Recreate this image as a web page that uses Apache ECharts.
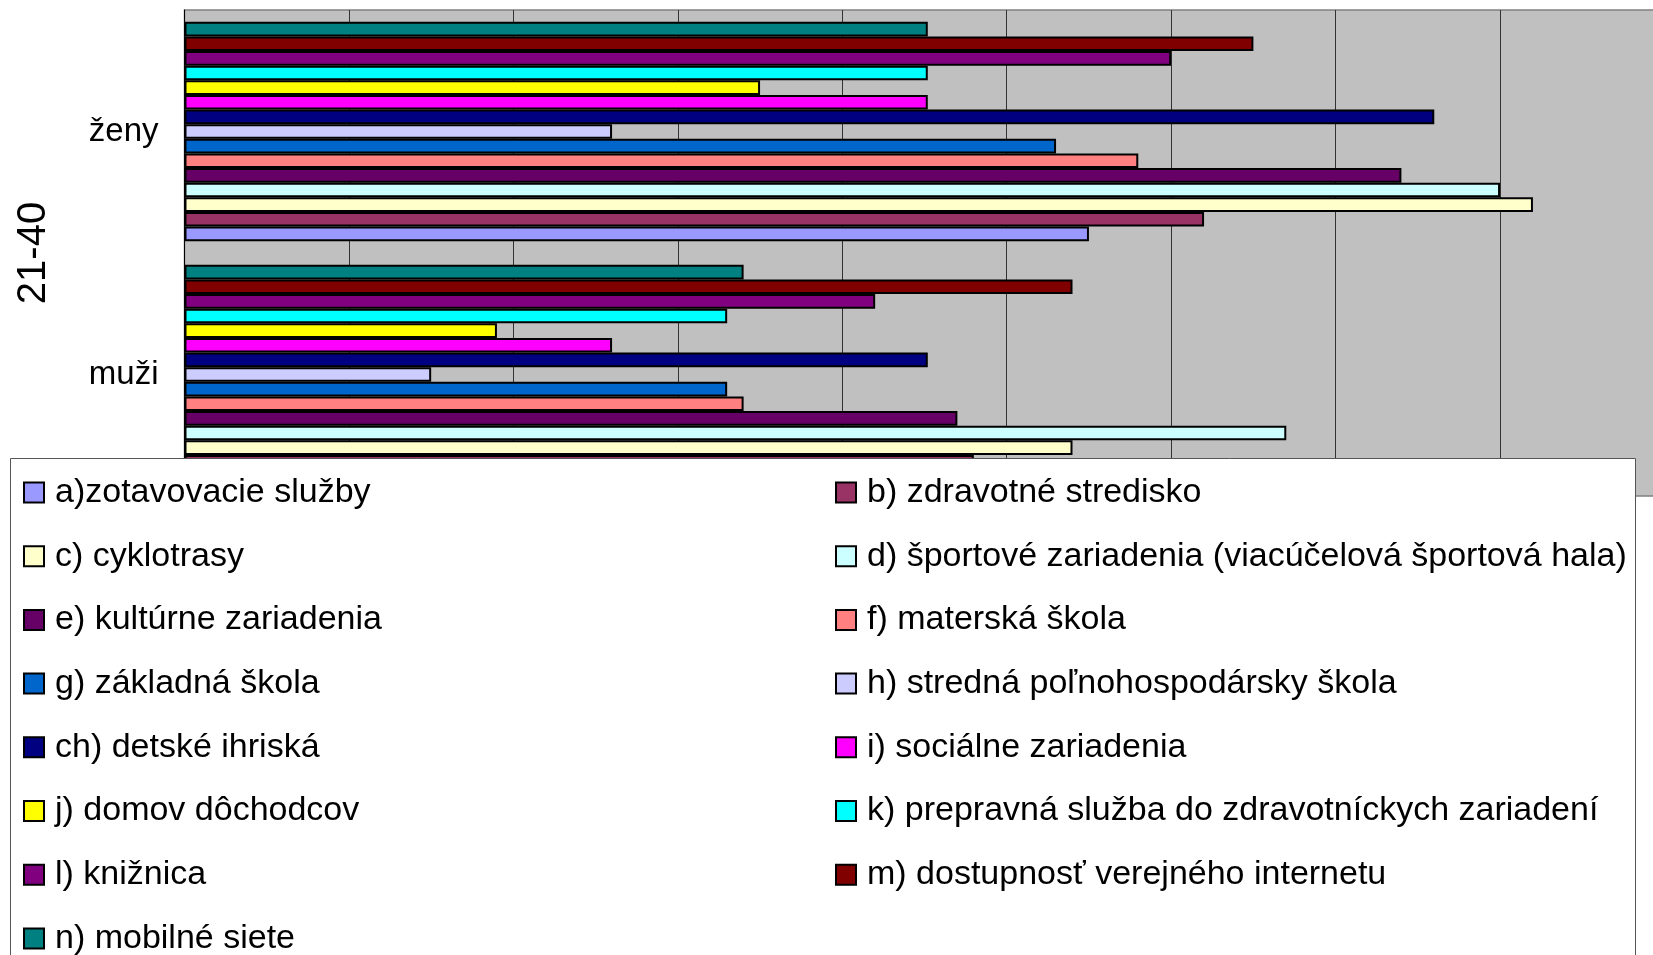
<!DOCTYPE html>
<html>
<head>
<meta charset="utf-8">
<script src="https://cdn.jsdelivr.net/npm/echarts@6/dist/echarts.min.js"></script>
<style>
  html, body { margin: 0; padding: 0; background: #fff; }
  #chart { width: 1653px; height: 955px; }
</style>
</head>
<body>
<div id="chart"></div>
<script>
// kategorie (zdola nahor)
var categories = ['muži', 'ženy'];
var groupLabel = ['21-40'];

// nazvy radov a) .. n)
var names = [
    'a)zotavovacie služby',
    'b) zdravotné stredisko',
    'c) cyklotrasy',
    'd) športové zariadenia (viacúčelová športová hala)',
    'e) kultúrne zariadenia',
    'f) materská škola',
    'g) základná škola',
    'h) stredná poľnohospodársky škola',
    'ch) detské ihriská',
    'i) sociálne zariadenia',
    'j) domov dôchodcov',
    'k) prepravná služba do zdravotníckych zariadení',
    'l) knižnica',
    'm) dostupnosť verejného internetu',
    'n) mobilné siete'
];

// hodnoty, poradie a..n
var zeny = [27.5, 31, 41, 40, 37, 29, 26.5, 13, 38, 22.6, 17.5, 22.6, 30, 32.5, 22.6];
var muzi = [20, 24, 27, 33.5, 23.5, 17, 16.5, 7.5, 22.6, 13, 9.5, 16.5, 21, 27, 17];

var colors = ['#9999FF', '#993366', '#FFFFCC', '#CCFFFF', '#660066', '#FF8080', '#0066CC',
    '#CCCCFF', '#000080', '#FF00FF', '#FFFF00', '#00FFFF', '#800080', '#800000', '#008080'];

var chart = echarts.init(document.getElementById('chart'));

// echarts kladie prvy rad navrch pasma, preto pridavame od n) po a)
var series = [];
for (var i = names.length - 1; i >= 0; i--) {
    series.push({
        name: names[i],
        type: 'bar',
        data: [muzi[i], zeny[i]],
        barGap: '0%',
        barCategoryGap: '9.7%',
        itemStyle: { color: colors[i], borderColor: '#000', borderWidth: 2 }
    });
}

var legendText = {
    fontFamily: 'Liberation Sans',
    fontSize: 34,
    lineHeight: 35,
    color: '#000',
    padding: [0, 0, 0, 6]
};

var option = {
    animation: false,
    grid: {
        left: 184.5,
        top: 10,
        width: 1480,
        bottom: 459,
        outerBoundsMode: 'none',
        show: true,
        backgroundColor: '#C0C0C0',
        borderColor: '#808080',
        borderWidth: 1.5
    },
    xAxis: {
        type: 'value',
        min: 0,
        max: 45,
        interval: 5,
        axisLabel: { show: false },
        axisTick: { show: false },
        axisLine: { show: false },
        splitLine: { lineStyle: { color: '#333', width: 1 } }
    },
    yAxis: [{
        type: 'category',
        data: categories,
        axisLine: { lineStyle: { color: '#000', width: 1 } },
        axisTick: { length: 107, lineStyle: { color: '#000' } },
        axisLabel: {
            margin: 26,
            fontFamily: 'Liberation Sans',
            fontSize: 33,
            color: '#000'
        }
    }, {
        type: 'category',
        data: groupLabel,
        position: 'left',
        axisLine: { show: false },
        axisTick: { length: 184, lineStyle: { color: '#000' } },
        axisLabel: {
            rotate: 90,
            margin: 131,
            fontFamily: 'Liberation Sans',
            fontSize: 40,
            color: '#000'
        }
    }],
    legend: [{
        orient: 'vertical',
        left: 23,
        top: 475,
        height: 560,
        padding: 0,
        icon: 'rect',
        itemWidth: 20,
        itemHeight: 20,
        itemGap: 28.7,
        z: 110,
        data: [names[0], names[2], names[4], names[6], names[8], names[10], names[12], names[14]],
        textStyle: legendText
    }, {
        orient: 'vertical',
        left: 835,
        top: 475,
        height: 560,
        padding: 0,
        icon: 'rect',
        itemWidth: 20,
        itemHeight: 20,
        itemGap: 28.7,
        z: 110,
        data: [names[1], names[3], names[5], names[7], names[9], names[11], names[13]],
        textStyle: legendText
    }],
    graphic: [{
        type: 'rect',
        z: 100,
        shape: { x: 10.5, y: 458.5, width: 1625, height: 600 },
        style: { fill: '#fff', stroke: '#555', lineWidth: 1 }
    }],
    series: series
};

chart.setOption(option);
</script>
</body>
</html>
